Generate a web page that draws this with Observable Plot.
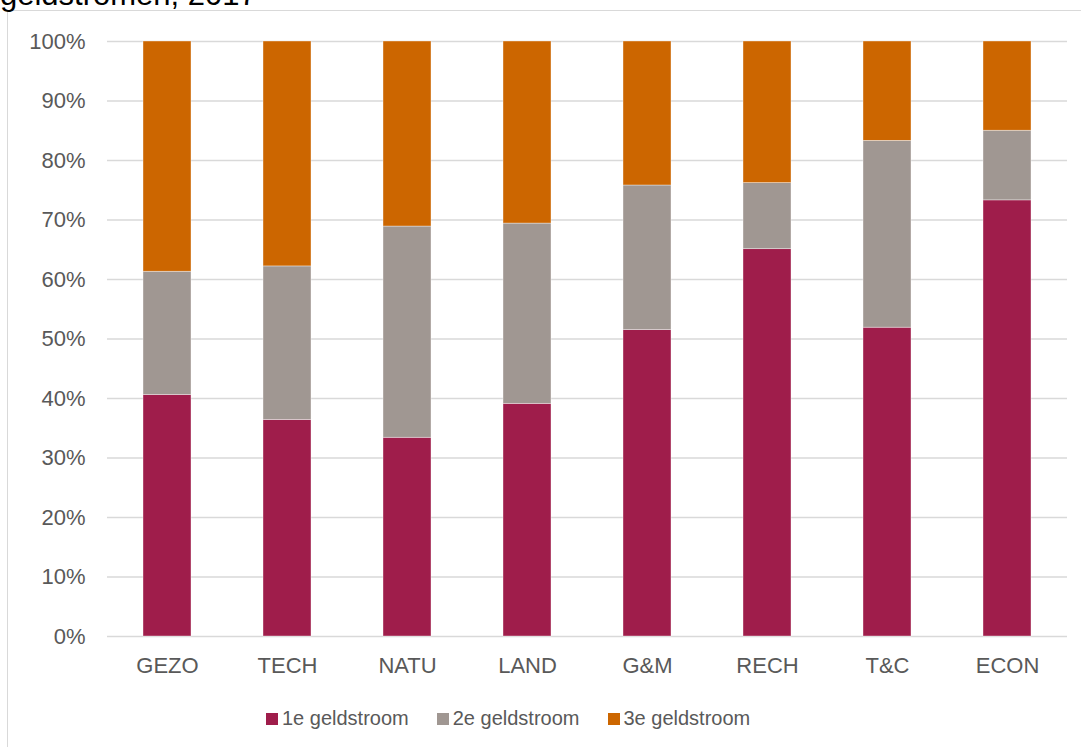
<!DOCTYPE html>
<html>
<head>
<meta charset="utf-8">
<script src="https://cdn.jsdelivr.net/npm/d3@7"></script>
<script src="https://cdn.jsdelivr.net/npm/@observablehq/plot@0.6"></script>
<style>
  html, body { margin: 0; padding: 0; background: #fff; overflow: hidden; }
  body { width: 1081px; height: 747px; position: relative; font-family: "Liberation Sans", Arial, sans-serif; }
  #frame { position: absolute; left: 7px; top: 10px; width: 1090px; height: 760px; border-left: 1.5px solid #d9d9d9; border-top: 1.5px solid #d9d9d9; box-sizing: border-box; }
  #title { position: absolute; left: 0; top: -21px; font-size: 31px; line-height: 31px; color: #000; white-space: nowrap; }
  #chart { position: absolute; left: 0; top: 0; }
  #legend { position: absolute; left: 252px; top: 707px; display: flex; font-size: 20px; color: #595959; }
  .item { display: flex; align-items: center; margin: 0 14px; }
  .sw { width: 12px; height: 12px; margin-right: 4px; }
</style>
</head>
<body>
<div id="frame"></div>
<div id="title">geldstromen, 2017</div>
<div id="chart"></div>
<div id="legend"></div>
<script>
const categories = ["GEZO", "TECH", "NATU", "LAND", "G&M", "RECH", "T&C", "ECON"];
const series = ["1e geldstroom", "2e geldstroom", "3e geldstroom"];
const eerste = [40.6, 36.4, 33.4, 39.1, 51.5, 65.1, 51.9, 73.3];
const tweede = [20.7, 25.8, 35.5, 30.3, 24.3, 11.1, 31.4, 11.7];
const derde  = [38.7, 37.8, 31.1, 30.6, 24.2, 23.8, 16.7, 15.0];
const yTicks = [0, 10, 20, 30, 40, 50, 60, 70, 80, 90, 100];
const colors = ["#9F1D4B", "#A09792", "#CC6600"];

const valuesBySeries = [eerste, tweede, derde];
const table = series.flatMap((s, si) =>
  categories.map((c, ci) => ({ cat: c, series: s, value: valuesBySeries[si][ci] }))
);

const chart = Plot.plot({
  width: 1081,
  height: 690,
  marginLeft: 107,
  marginRight: 14,
  marginTop: 41,
  marginBottom: 54,
  style: { fontFamily: "'Liberation Sans', Arial, sans-serif", color: "#595959", background: "transparent" },
  x: { domain: categories, paddingInner: 0.6, paddingOuter: 0.3, label: null },
  y: { domain: [0, 100], label: null },
  color: { domain: series, range: colors },
  marks: [
    Plot.ruleY(yTicks, { stroke: "#d9d9d9", strokeWidth: 1.5 }),
    Plot.barY(table, Plot.stackY({
      order: series,
      x: "cat", y: "value", fill: "series",
      stroke: "white", strokeWidth: 0.75, strokeOpacity: 0.5
    })),
    Plot.axisY({ ticks: yTicks, tickSize: 0, tickPadding: 22, tickFormat: d => d + "%", label: null, fill: "#595959", fontSize: 22 }),
    Plot.axisX({ tickSize: 0, tickPadding: 21, label: null, fill: "#595959", fontSize: 22 })
  ]
});
document.getElementById("chart").appendChild(chart);

const legend = document.getElementById("legend");
series.forEach((s, i) => {
  const item = document.createElement("div");
  item.className = "item";
  const sw = document.createElement("div");
  sw.className = "sw";
  sw.style.background = colors[i];
  const t = document.createElement("span");
  t.textContent = s;
  item.appendChild(sw);
  item.appendChild(t);
  legend.appendChild(item);
});
</script>
</body>
</html>
